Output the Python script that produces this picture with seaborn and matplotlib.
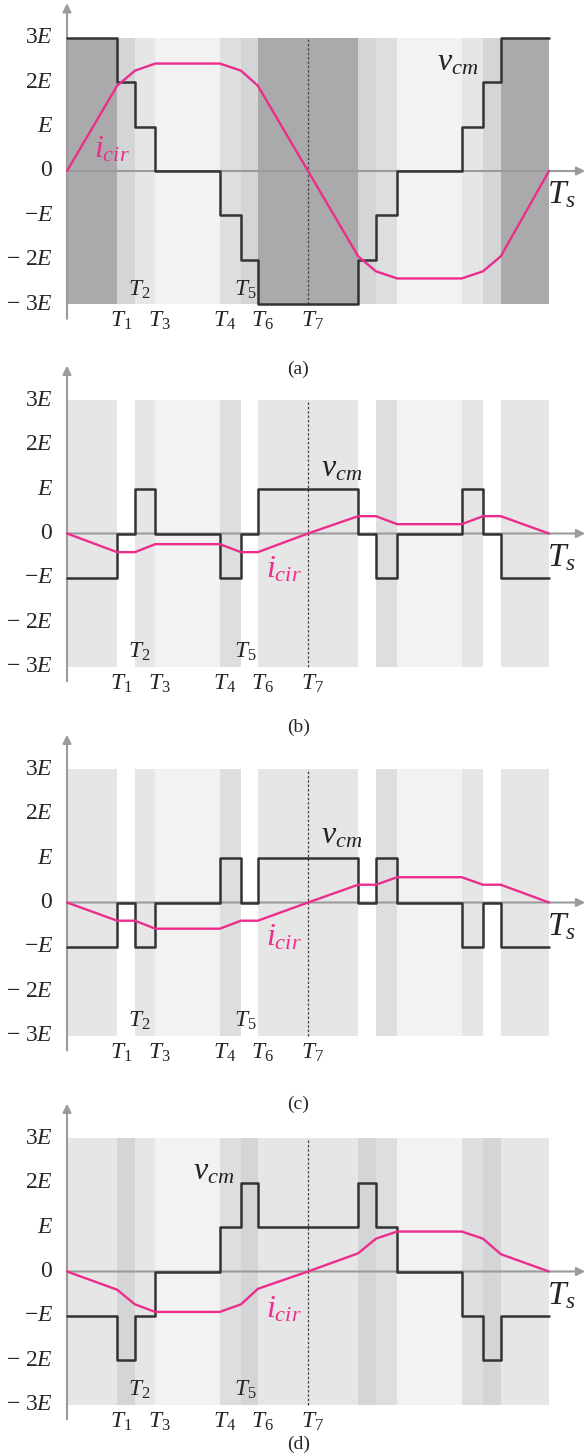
import numpy as np
import matplotlib
matplotlib.use("Agg")
import matplotlib.pyplot as plt
import seaborn as sns

sns.set_style("white")
plt.rcParams.update({
    "font.family": ["Liberation Serif", "DejaVu Serif"],
    "mathtext.fontset": "custom",
    "mathtext.rm": "Liberation Serif",
    "mathtext.it": "Liberation Serif:italic",
    "mathtext.bf": "Liberation Serif:bold",
})

# ── data (time in units of Ts, levels in units of E) ──────────────────────
bounds = [0, 0.104, 0.141, 0.183, 0.317, 0.361, 0.396,
          0.604, 0.641, 0.685, 0.819, 0.863, 0.900, 1.0]
t7 = 0.5
icir_t = bounds[:7] + [t7] + bounds[7:]

W, L1, L2, L3, L4, L5 = "#ffffff", "#f2f2f2", "#e6e6e7", "#dddee0", "#d4d5d7", "#aaaaac"

shade_a = [L5, L4, L2, L1, L3, L4, L5, L4, L3, L1, L2, L4, L5]
shade_b = [L2, W, L2, L1, L3, W, L2, W, L3, L1, L2, W, L2]
shade_c = [L2, W, L2, L1, L3, W, L2, W, L3, L1, L2, W, L2]
shade_d = [L2, L4, L2, L1, L3, L4, L2, L4, L3, L1, L3, L4, L2]

vcm_a = [3, 2, 1, 0, -1, -2, -3, -2, -1, 0, 1, 2, 3]
vcm_b = [-1, 0, 1, 0, -1, 0, 1, 0, -1, 0, 1, 0, -1]
vcm_c = [-1, 0, -1, 0, 1, 0, 1, 0, 1, 0, -1, 0, -1]
vcm_d = [-1, -2, -1, 0, 1, 2, 1, 2, 1, 0, -1, -2, -1]

icir_a = [0, 1.92, 2.26, 2.42, 2.42, 2.26, 1.92, 0, -1.92, -2.26, -2.42, -2.42, -2.26, -1.92, 0]
icir_b = [0, -0.42, -0.42, -0.24, -0.24, -0.42, -0.42, 0, 0.39, 0.39, 0.21, 0.21, 0.39, 0.39, 0]
icir_c = [0, -0.41, -0.41, -0.59, -0.59, -0.41, -0.41, 0, 0.40, 0.40, 0.57, 0.57, 0.40, 0.40, 0]
icir_d = [0, -0.41, -0.74, -0.91, -0.91, -0.74, -0.39, 0, 0.41, 0.74, 0.90, 0.90, 0.74, 0.39, 0]

ytick_vals = [3, 2, 1, 0, -1, -2, -3]
ytick_labels = [r"$3E$", r"$2E$", r"$E$", r"$0$", r"$-E$", r"$-\ 2E$", r"$-\ 3E$"]
t_labels = [r"$T_1$", r"$T_2$", r"$T_3$", r"$T_4$", r"$T_5$", r"$T_6$", r"$T_7$"]

panels = [
    ("(a)", shade_a, vcm_a, icir_a, (0.81, 2.43), (0.094, 0.47), -4.46),
    ("(b)", shade_b, vcm_b, icir_b, (0.57, 1.46), (0.45, -0.82), -4.36),
    ("(c)", shade_c, vcm_c, icir_c, (0.57, 1.49), (0.45, -0.79), -4.55),
    ("(d)", shade_d, vcm_d, icir_d, (0.305, 2.24), (0.45, -0.87), -3.90),
]

# ── layout (pixels) ────────────────────────────────────────────────────────
FIG_W, FIG_H = 586, 1456
X0, PX_T, PX_E = 67, 482, 44.4
zeros_px = [171, 533.5, 902.5, 1271.5]

VCM_C = "#333333"
ICIR_C = "#ec2d8c"
AX_C = "#9b9b9b"

fig = plt.figure(figsize=(FIG_W / 100, FIG_H / 100), dpi=100)

t_marks = [bounds[1], bounds[2], bounds[3], bounds[4], bounds[5], bounds[6], t7]

for k, (name, shade, vcm, icir, vpos, ipos, lab_y) in enumerate(panels):
    z = zeros_px[k]
    ax = fig.add_axes([0, 0, 1, 1], label=name)
    ax.set_xlim(-X0 / PX_T, (FIG_W - X0) / PX_T)
    ax.set_ylim((z - FIG_H) / PX_E, z / PX_E)
    ax.set_axis_off()
    ax.patch.set_alpha(0)

    # background switching-state bands
    widths = np.diff(bounds)
    ax.bar(bounds[:-1], [6] * len(widths), width=widths, bottom=-3,
           align="edge", color=shade, linewidth=0, zorder=1)

    # axes with arrows
    arr = dict(arrowstyle="-|>,head_length=0.5,head_width=0.25", color=AX_C,
               lw=1.5, shrinkA=0, shrinkB=0)
    ax.annotate("", xy=(0, 3.78), xytext=(0, -3.33), arrowprops=arr, zorder=2)
    ax.annotate("", xy=(1.075, 0), xytext=(0, 0), arrowprops=arr, zorder=2)

    # T7 dotted line
    ax.plot([t7, t7], [-3, 3], color="#444444", lw=0.9, ls=(0, (2, 1.5)), zorder=2)

    # v_cm staircase and circulating current
    sns.lineplot(x=bounds, y=vcm + [vcm[-1]], drawstyle="steps-post",
                 color=VCM_C, lw=1.8, ax=ax, zorder=3)
    sns.lineplot(x=icir_t, y=icir, color=ICIR_C, lw=1.7, ax=ax, zorder=4)

    # y tick labels
    for v, s in zip(ytick_vals, ytick_labels):
        ax.text(-0.029, v, s, ha="right", va="center", fontsize=17)

    # time labels
    for i, (tm, s) in enumerate(zip(t_marks, t_labels)):
        y = -2.67 if i in (1, 4) else -3.38
        ax.text(tm + 0.009, y, s, ha="center", va="center", fontsize=17)

    ax.text(1.025, -0.54, r"$T_s$", ha="center", va="center", fontsize=24)
    ax.text(vpos[0], vpos[1], r"$v_{cm}$", ha="center", va="center",
            fontsize=23, color="#222222")
    ax.text(ipos[0], ipos[1], r"$i_{cir}$", ha="center", va="center",
            fontsize=23, color=ICIR_C)
    ax.text(0.48, lab_y, name, ha="center", va="center", fontsize=14)

fig.savefig("out.png", dpi=100)
